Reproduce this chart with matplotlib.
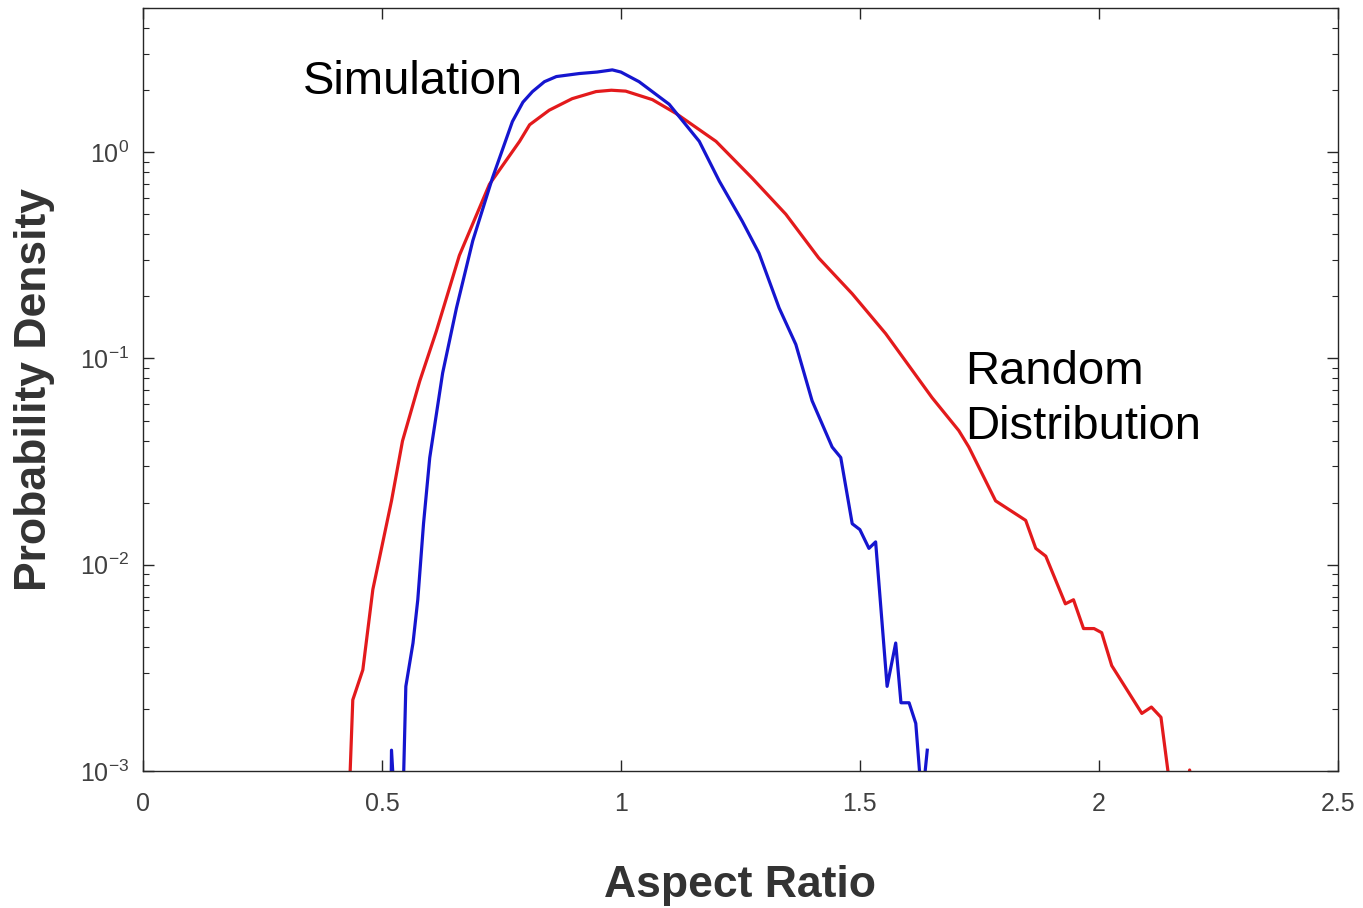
import matplotlib
matplotlib.use("Agg")
import matplotlib.pyplot as plt
from matplotlib.ticker import LogLocator

plt.rcParams['font.family'] = ['Liberation Sans', 'DejaVu Sans']
plt.rcParams['mathtext.fontset'] = 'custom'
plt.rcParams['mathtext.rm'] = 'Liberation Sans'
plt.rcParams['mathtext.it'] = 'Liberation Sans'

# Simulation curve (blue)
sim_x = [0.51, 0.52, 0.53, 0.54, 0.55, 0.565, 0.575, 0.587, 0.60, 0.627, 0.656,
         0.69, 0.731, 0.773, 0.795, 0.815, 0.84, 0.865, 0.913, 0.95, 0.982, 1.0,
         1.038, 1.101, 1.164, 1.206, 1.254, 1.289, 1.331, 1.366, 1.40, 1.442,
         1.46, 1.484, 1.50, 1.519, 1.533, 1.557, 1.575, 1.586, 1.603, 1.617,
         1.63, 1.641]
sim_y = [1e-5, 1.26e-3, 5e-4, 3e-4, 2.57e-3, 4.17e-3, 6.76e-3, 1.58e-2, 3.3e-2,
         8.5e-2, 0.176, 0.372, 0.748, 1.41, 1.75, 1.97, 2.2, 2.33, 2.41, 2.45,
         2.51, 2.45, 2.20, 1.71, 1.13, 0.724, 0.463, 0.324, 0.176, 0.117,
         0.0624, 0.0372, 0.0331, 0.0158, 0.0148, 0.0120, 0.0129, 2.57e-3,
         4.17e-3, 2.14e-3, 2.14e-3, 1.7e-3, 7e-4, 1.26e-3]

# Random distribution curve (red)
rnd_x = [0.432, 0.439, 0.46, 0.481, 0.501, 0.52, 0.543, 0.579, 0.614, 0.662,
         0.725, 0.788, 0.809, 0.85, 0.898, 0.948, 0.98, 1.01, 1.066, 1.115,
         1.199, 1.275, 1.345, 1.414, 1.484, 1.554, 1.651, 1.707, 1.728, 1.784,
         1.847, 1.868, 1.889, 1.93, 1.947, 1.968, 1.99, 2.006, 2.027, 2.09,
         2.11, 2.13, 2.15, 2.17, 2.19, 2.21]
rnd_y = [8e-4, 2.21e-3, 3.09e-3, 7.59e-3, 1.26e-2, 2.04e-2, 3.98e-2, 7.76e-2,
         0.136, 0.316, 0.70, 1.13, 1.36, 1.60, 1.82, 1.97, 2.0, 1.98, 1.80,
         1.545, 1.13, 0.748, 0.501, 0.307, 0.206, 0.132, 0.0646, 0.0447,
         0.0372, 0.0204, 0.0164, 0.0120, 0.0110, 6.46e-3, 6.76e-3, 4.9e-3,
         4.9e-3, 4.68e-3, 3.24e-3, 1.9e-3, 2.04e-3, 1.82e-3, 8e-4, 5e-4,
         1.01e-3, 5e-4]

x_ticks = [0, 0.5, 1, 1.5, 2, 2.5]
x_tick_labels = ['0', '0.5', '1', '1.5', '2', '2.5']

fig = plt.figure(figsize=(13.63, 9.08), dpi=100)
ax = fig.add_axes([0.1049, 0.151, 0.8766, 0.840])

ax.plot(rnd_x, rnd_y, color='#e31a1c', lw=2.3, solid_joinstyle='round')
ax.plot(sim_x, sim_y, color='#1515cf', lw=2.3, solid_joinstyle='round')

ax.set_yscale('log')
ax.set_xlim(0, 2.5)
ax.set_ylim(1e-3, 5)
ax.set_xticks(x_ticks)
ax.set_xticklabels(x_tick_labels)
ax.yaxis.set_major_locator(LogLocator(base=10, numticks=10))
ax.yaxis.set_minor_locator(LogLocator(base=10, subs=range(2, 10), numticks=20))

for s in ax.spines.values():
    s.set_color('#262626')
    s.set_linewidth(1.0)
ax.tick_params(which='both', direction='in', top=True, right=True,
               colors='#262626', labelcolor='#404040', labelsize=18)
ax.tick_params(which='major', length=8, width=1.0)
ax.tick_params(which='minor', length=4, width=0.8)
ax.tick_params(axis='x', which='major', pad=15)
ax.tick_params(axis='y', which='major', pad=10)

ax.set_xlabel('Aspect Ratio', fontsize=32, fontweight='bold', color='#333333')
ax.xaxis.set_label_coords(0.5, -0.1505)
ax.xaxis.label.set_va('center')
ax.set_ylabel('Probability Density', fontsize=32, fontweight='bold', color='#333333')
ax.yaxis.set_label_coords(-0.0905, 0.5)
ax.yaxis.label.set_va('center')

ax.text(0.134, 0.903, 'Simulation', transform=ax.transAxes, fontsize=34,
        color='black', ha='left', va='center')
ax.text(0.688, 0.487, 'Random\nDistribution', transform=ax.transAxes, fontsize=34,
        color='black', ha='left', va='center', linespacing=1.3)

fig.savefig('out.png', dpi=100, facecolor='white')
